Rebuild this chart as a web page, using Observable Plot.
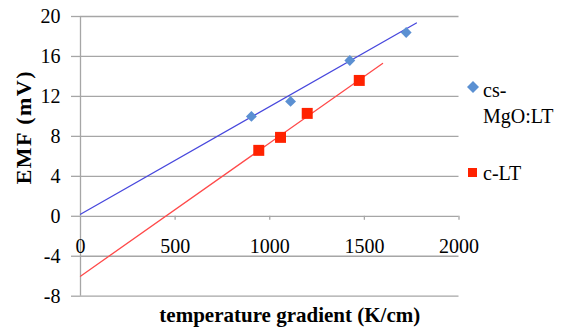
<!DOCTYPE html>
<html>
<head>
<meta charset="utf-8">
<script src="https://cdn.jsdelivr.net/npm/d3@7"></script>
<script src="https://cdn.jsdelivr.net/npm/@observablehq/plot@0.6"></script>
<style>
  html, body { margin: 0; padding: 0; background: #fff; }
  #wrap { position: relative; width: 563px; height: 330px; font-family: 'Liberation Serif'; }
  .leg { position: absolute; font-size: 20px; color: #000; line-height: 26px; font-family: 'Liberation Serif'; }
  .sym { position: absolute; }
</style>
</head>
<body>
<div id="wrap"></div>
<script>
// Data
const seriesNames = ["cs-MgO:LT", "c-LT"];
const csX = [903, 1110, 1423, 1721];
const csY = [10.0, 11.5, 15.6, 18.4];
const cX = [942, 1057, 1198, 1473];
const cY = [6.6, 7.9, 10.3, 13.6];
// Trendline end points
const csTrendX = [0, 1775];
const csTrendY = [0.2, 19.35];
const cTrendX = [0, 1596];
const cTrendY = [-6.0, 15.3];
const xTicks = [0, 500, 1000, 1500, 2000];
const yTicks = [-8, -4, 0, 4, 8, 12, 16, 20];

const csPts = csX.map((x, i) => ({x, y: csY[i]}));
const cPts = cX.map((x, i) => ({x, y: cY[i]}));
const csTrend = csTrendX.map((x, i) => ({x, y: csTrendY[i]}));
const cTrend = cTrendX.map((x, i) => ({x, y: cTrendY[i]}));

const blueDot = "#5b90d2";
const redDot = "#ff2200";
const blueLine = "#4848dd";
const redLine = "#ff4a4a";
const gridC = "#a6a6a6";
const serif = "Liberation Serif";

const chart = Plot.plot({
  width: 563,
  height: 330,
  marginLeft: 80,
  marginRight: 104.5,
  marginTop: 16,
  marginBottom: 34.3,
  style: { fontFamily: serif, fontSize: "20px", background: "#fff", overflow: "visible" },
  x: { domain: [0, 2000], axis: null },
  y: { domain: [-8, 20], axis: null },
  marks: [
    Plot.gridY(yTicks, { stroke: gridC, strokeOpacity: 1, strokeWidth: 1.3 }),
    Plot.axisY(yTicks, { tickSize: 9, tickPadding: 11, stroke: gridC, strokeWidth: 1.3, fill: "#000", label: null, fontSize: 20, tickFormat: d => String(d) }),
    Plot.ruleX([0], { stroke: gridC, strokeWidth: 1.3 }),
    Plot.ruleX(xTicks.slice(1), { x: d => d, y1: 0, y2: 0, insetBottom: -4, stroke: gridC, strokeWidth: 1.3 }),
    Plot.text(xTicks, { x: d => d, y: 0, dy: 30, text: d => String(d), fontSize: 20, fill: "#000" }),
    Plot.line(csTrend, { x: "x", y: "y", stroke: blueLine, strokeWidth: 1.3 }),
    Plot.line(cTrend, { x: "x", y: "y", stroke: redLine, strokeWidth: 1.3 }),
    Plot.dot(csPts, { x: "x", y: "y", symbol: "diamond2", r: 4.9, fill: blueDot, stroke: null }),
    Plot.dot(cPts, { x: "x", y: "y", symbol: "square", r: 6.2, fill: redDot, stroke: null }),
    Plot.text(["temperature gradient (K/cm)"], { frameAnchor: "bottom", dy: 26, text: d => d, fontSize: 21, fontWeight: "bold", fill: "#000", dx: 20 }),
    Plot.text(["EMF (mV)"], { frameAnchor: "left", dx: -57, dy: 28, rotate: -90, text: d => d, fontSize: 22, fontWeight: "bold", fill: "#000" })
  ]
});

d3.select(chart).selectAll("text")
  .filter(function () { return this.textContent === "EMF (mV)"; })
  .style("letter-spacing", "1.5px");

const wrap = document.getElementById("wrap");
wrap.appendChild(chart);

function addSym(html, left, top) {
  const s = document.createElement("div");
  s.className = "sym";
  s.style.left = left + "px";
  s.style.top = top + "px";
  s.innerHTML = html;
  wrap.appendChild(s);
}
function addText(txt, left, top) {
  const d = document.createElement("div");
  d.className = "leg";
  d.style.left = left + "px";
  d.style.top = top + "px";
  d.innerHTML = txt;
  wrap.appendChild(d);
}
addSym(`<svg width="12" height="12"><path d="M6 0 L12 6 L6 12 L0 6 Z" fill="${blueDot}"/></svg>`, 467, 79);
addText("cs-<br>MgO:LT", 483, 77);
addSym(`<svg width="9" height="9"><rect width="9" height="9" fill="${redDot}"/></svg>`, 468, 163);
addText(seriesNames[1], 483, 160);
</script>
</body>
</html>
